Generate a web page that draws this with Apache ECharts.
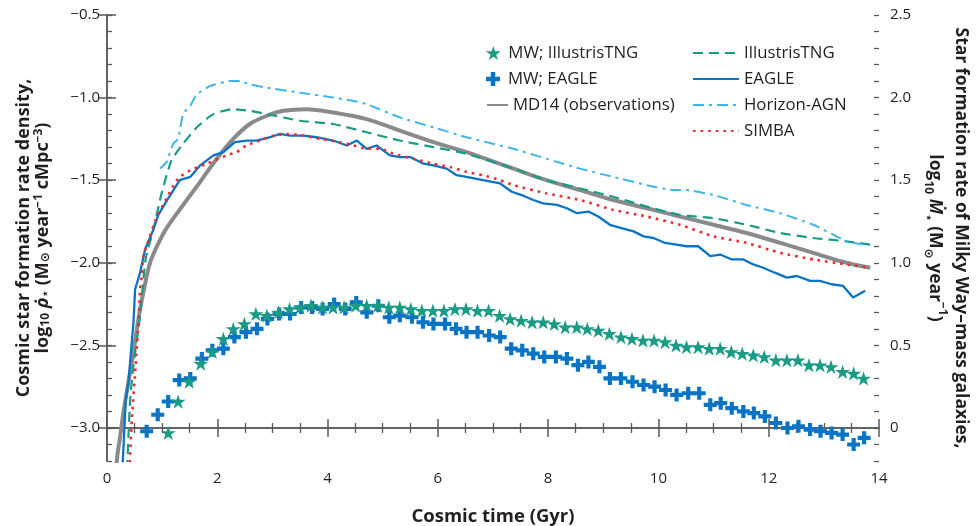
<!DOCTYPE html>
<html>
<head>
<meta charset="utf-8">
<script src="https://cdn.jsdelivr.net/npm/echarts@6/dist/echarts.min.js"></script>
<style>html,body{margin:0;padding:0;background:#fff}#c{width:980px;height:526px}</style>
</head>
<body>
<div id="c"></div>
<script>
// ---- data (time in Gyr, log10 values) ----
const md14 = [[0.15,-3.40],[0.18,-3.19],[0.24,-3.05],[0.30,-2.90],[0.38,-2.74],[0.45,-2.60],[0.52,-2.45],[0.60,-2.28],[0.69,-2.13],[0.78,-2.00],[0.92,-1.89],[1.08,-1.79],[1.38,-1.65],[1.69,-1.51],[1.99,-1.37],[2.29,-1.25],[2.59,-1.16],[2.90,-1.11],[3.20,-1.08],[3.62,-1.07],[4.10,-1.09],[4.71,-1.13],[5.31,-1.20],[5.92,-1.27],[6.52,-1.33],[7.37,-1.43],[7.97,-1.50],[8.58,-1.56],[9.18,-1.62],[9.79,-1.67],[10.39,-1.72],[11.00,-1.77],[11.60,-1.82],[12.21,-1.88],[12.81,-1.94],[13.41,-2.00],[13.84,-2.03]];
const tng = [[0.35,-3.35],[0.37,-3.20],[0.42,-2.83],[0.48,-2.62],[0.60,-2.32],[0.70,-1.98],[0.84,-1.80],[0.99,-1.58],[1.17,-1.38],[1.38,-1.28],[1.63,-1.18],[1.93,-1.10],[2.29,-1.07],[2.59,-1.08],[2.90,-1.10],[3.50,-1.14],[4.10,-1.16],[4.71,-1.21],[5.31,-1.26],[5.92,-1.30],[6.52,-1.34],[7.37,-1.43],[7.97,-1.50],[8.58,-1.55],[9.18,-1.60],[9.79,-1.66],[10.39,-1.71],[11.00,-1.73],[11.60,-1.77],[12.21,-1.82],[12.81,-1.85],[13.41,-1.87],[13.84,-1.89]];
const eagle = [[0.27,-3.30],[0.30,-3.11],[0.34,-2.83],[0.39,-2.72],[0.48,-2.36],[0.51,-2.16],[0.60,-2.06],[0.69,-1.92],[0.84,-1.80],[0.93,-1.71],[1.11,-1.61],[1.32,-1.50],[1.51,-1.48],[1.69,-1.41],[1.93,-1.35],[2.11,-1.33],[2.32,-1.27],[2.53,-1.26],[2.71,-1.26],[2.96,-1.24],[3.14,-1.22],[3.32,-1.23],[3.56,-1.23],[3.80,-1.24],[4.10,-1.26],[4.35,-1.29],[4.53,-1.26],[4.71,-1.31],[4.89,-1.29],[5.13,-1.35],[5.31,-1.36],[5.50,-1.36],[5.74,-1.40],[5.92,-1.41],[6.16,-1.43],[6.34,-1.47],[6.52,-1.48],[6.82,-1.50],[7.13,-1.52],[7.34,-1.57],[7.52,-1.59],[7.73,-1.62],[7.91,-1.64],[8.16,-1.65],[8.34,-1.67],[8.52,-1.70],[8.73,-1.69],[8.91,-1.72],[9.12,-1.77],[9.33,-1.79],[9.55,-1.81],[9.73,-1.84],[9.91,-1.85],[10.12,-1.88],[10.33,-1.89],[10.51,-1.90],[10.72,-1.90],[10.94,-1.96],[11.12,-1.95],[11.33,-1.98],[11.54,-1.98],[11.72,-2.01],[11.90,-2.03],[12.11,-2.06],[12.33,-2.09],[12.51,-2.08],[12.75,-2.11],[12.93,-2.11],[13.14,-2.13],[13.35,-2.14],[13.53,-2.21],[13.75,-2.17]];
const horizon = [[0.96,-1.43],[1.08,-1.39],[1.20,-1.28],[1.29,-1.25],[1.38,-1.10],[1.51,-1.05],[1.63,-0.98],[1.87,-0.93],[2.23,-0.90],[2.41,-0.90],[2.59,-0.92],[2.90,-0.94],[3.50,-0.97],[4.10,-1.00],[4.47,-1.02],[4.71,-1.04],[5.31,-1.12],[5.92,-1.18],[6.52,-1.24],[7.37,-1.31],[7.97,-1.37],[8.58,-1.43],[9.18,-1.48],[9.79,-1.53],[10.27,-1.56],[10.51,-1.56],[11.00,-1.59],[11.60,-1.65],[12.21,-1.70],[12.81,-1.77],[13.41,-1.87],[13.72,-1.89]];
const simba = [[0.40,-3.30],[0.45,-2.95],[0.52,-2.62],[0.57,-2.36],[0.60,-2.16],[0.63,-2.08],[0.66,-1.96],[0.78,-1.84],[0.87,-1.75],[1.08,-1.61],[1.29,-1.49],[1.51,-1.44],[1.81,-1.40],[2.17,-1.35],[2.35,-1.33],[2.53,-1.29],[2.77,-1.26],[3.02,-1.23],[3.26,-1.22],[3.56,-1.23],[3.86,-1.25],[4.23,-1.27],[4.47,-1.29],[4.71,-1.31],[4.95,-1.31],[5.19,-1.34],[5.55,-1.37],[5.92,-1.40],[6.22,-1.42],[6.52,-1.45],[6.82,-1.47],[7.13,-1.50],[7.37,-1.53],[7.97,-1.58],[8.58,-1.62],[9.18,-1.68],[9.79,-1.72],[10.39,-1.77],[11.00,-1.84],[11.60,-1.88],[12.21,-1.94],[12.81,-1.98],[13.41,-2.01],[13.84,-2.03]];
// Milky Way-mass galaxies (right axis)
const mwTng = [[1.11,-0.03],[1.29,0.16],[1.49,0.28],[1.70,0.39],[1.91,0.46],[2.11,0.54],[2.29,0.60],[2.49,0.63],[2.70,0.69],[2.90,0.68],[3.11,0.70],[3.31,0.72],[3.50,0.73],[3.70,0.74],[3.91,0.73],[4.10,0.73],[4.30,0.73],[4.51,0.74],[4.71,0.74],[4.91,0.74],[5.11,0.73],[5.31,0.73],[5.51,0.72],[5.71,0.71],[5.91,0.71],[6.11,0.71],[6.31,0.72],[6.51,0.72],[6.72,0.71],[6.92,0.71],[7.12,0.68],[7.31,0.66],[7.51,0.65],[7.71,0.64],[7.91,0.64],[8.11,0.63],[8.31,0.61],[8.52,0.61],[8.71,0.60],[8.91,0.59],[9.11,0.57],[9.32,0.55],[9.52,0.54],[9.72,0.53],[9.92,0.53],[10.12,0.52],[10.32,0.50],[10.51,0.49],[10.72,0.49],[10.92,0.48],[11.12,0.48],[11.32,0.46],[11.52,0.45],[11.72,0.44],[11.92,0.43],[12.13,0.41],[12.33,0.41],[12.53,0.41],[12.73,0.38],[12.93,0.38],[13.13,0.37],[13.34,0.34],[13.54,0.33],[13.72,0.30]];
const mwEagle = [[0.72,-0.02],[0.92,0.08],[1.11,0.16],[1.31,0.29],[1.51,0.30],[1.72,0.42],[1.91,0.47],[2.11,0.48],[2.31,0.55],[2.52,0.58],[2.72,0.60],[2.91,0.66],[3.12,0.69],[3.32,0.69],[3.52,0.73],[3.72,0.73],[3.91,0.72],[4.12,0.75],[4.32,0.72],[4.52,0.76],[4.71,0.70],[4.92,0.74],[5.12,0.67],[5.31,0.68],[5.53,0.67],[5.73,0.64],[5.92,0.63],[6.13,0.63],[6.33,0.60],[6.52,0.58],[6.72,0.58],[6.93,0.56],[7.13,0.55],[7.33,0.48],[7.53,0.47],[7.73,0.45],[7.93,0.43],[8.14,0.43],[8.34,0.42],[8.54,0.38],[8.73,0.40],[8.93,0.37],[9.12,0.30],[9.32,0.30],[9.53,0.28],[9.73,0.26],[9.93,0.25],[10.13,0.23],[10.33,0.20],[10.54,0.21],[10.74,0.21],[10.94,0.14],[11.13,0.15],[11.33,0.12],[11.54,0.10],[11.73,0.09],[11.93,0.07],[12.13,0.03],[12.34,0.00],[12.54,0.01],[12.75,-0.01],[12.94,-0.02],[13.14,-0.03],[13.34,-0.04],[13.54,-0.10],[13.73,-0.06]];
// tick values
const leftMajor = [-3.0,-2.5,-2.0,-1.5,-1.0,-0.5];
const rightMajor = [0,0.5,1.0,1.5,2.0,2.5];
const leftMinor = [-3.2,-3.1,-3.0,-2.9,-2.8,-2.7,-2.6,-2.5,-2.4,-2.3,-2.2,-2.1,-2.0,-1.9,-1.8,-1.7,-1.6,-1.5,-1.4,-1.3,-1.2,-1.1,-1.0,-0.9,-0.8,-0.7,-0.6,-0.5];
const rightMinor = [-0.2,-0.1,0,0.1,0.2,0.3,0.4,0.5,0.6,0.7,0.8,0.9,1.0,1.1,1.2,1.3,1.4,1.5,1.6,1.7,1.8,1.9,2.0,2.1,2.2,2.3,2.4,2.5];

const FONT = '"Open Sans", "DejaVu Sans", sans-serif';
const AX = '#58595b';
const TXT = '#231f20';
const C_TNG = '#199b85', C_EAGLE = '#0a73c3', C_HZ = '#41b6e6', C_SIMBA = '#ee2a2e', C_MD = '#8a8a8c';
const STAR = 'path://M50,0 L61.2,34.5 L97.6,34.5 L68.2,55.9 L79.4,90.5 L50,69.1 L20.6,90.5 L31.8,55.9 L2.4,34.5 L38.8,34.5 Z';
const CROSS = 'path://M34,0 H66 V34 H100 V66 H66 V100 H34 V66 H0 V34 H34 Z';

function makeRich(size, lh) {
  return {
    t: {fontSize: size, fontWeight: 'bold', fontFamily: FONT, color: TXT, lineHeight: lh},
    ti: {fontSize: size, fontWeight: 'bold', fontStyle: 'italic', fontFamily: FONT, color: TXT, lineHeight: lh},
    s: {fontSize: 12, fontWeight: 'bold', fontFamily: FONT, color: TXT, lineHeight: 12, verticalAlign: 'bottom'},
    p: {fontSize: 12, fontWeight: 'bold', fontFamily: FONT, color: TXT, lineHeight: 13, verticalAlign: 'top'}
  };
}
const leftName = '{t|Cosmic star formation rate density,}\n{t|log}{s|10}{t| }{ti|ρ̇}{s|⋆}{t| (M}{s|⊙}{t| year}{p|−1}{t| cMpc}{p|−3}{t|)}';
const rightName = '{t|Star formation rate of Milky Way–mass galaxies,}\n{t|log}{s|10}{t| }{ti|Ṁ}{s|⋆}{t| (M}{s|⊙}{t| year}{p|−1}{t|)}';

const labelStyle = {fontSize: 15, fontFamily: FONT, color: TXT};
const lineAx = {show: true, lineStyle: {color: AX, width: 1.5}};

function xAx(pos, labels) {
  return {
    type: 'value', min: 0, max: 14, interval: 2, position: pos,
    axisLine: lineAx,
    axisTick: {show: true, inside: true, length: 9, lineStyle: {color: AX, width: 1.5}},
    minorTick: {show: true, splitNumber: 4, length: 5, lineStyle: {color: AX, width: 1.3}},
    axisLabel: Object.assign({show: labels, margin: 10}, labelStyle),
    splitLine: {show: false}, minorSplitLine: {show: false}
  };
}
function yAx(pos, min, max, major, minor, isMinor, fmt) {
  return {
    type: 'value', min: min, max: max, position: pos,
    axisLine: isMinor ? {show: false} : lineAx,
    axisTick: {show: true, inside: true, length: isMinor ? 5 : 9, customValues: isMinor ? minor : major, lineStyle: {color: AX, width: isMinor ? 1.3 : 1.5}},
    axisLabel: Object.assign({show: !isMinor, customValues: major, formatter: fmt, margin: pos === 'left' ? 7 : 11}, labelStyle),
    splitLine: {show: false}
  };
}

const xBottom = xAx('bottom', true);
xBottom.name = 'Cosmic time (Gyr)';
xBottom.nameLocation = 'middle';
xBottom.nameGap = 46;
xBottom.nameMoveOverlap = false;
xBottom.nameTextStyle = {fontSize: 18.5, fontWeight: 'bold', fontFamily: FONT, color: TXT};

const yLeft = yAx('left', -3.2, -0.5, leftMajor, leftMinor, false, v => v.toFixed(1).replace('-', '−'));
yLeft.name = leftName; yLeft.nameLocation = 'middle'; yLeft.nameRotate = 90; yLeft.nameGap = 55; yLeft.nameMoveOverlap = false;
yLeft.nameTextStyle = {rich: makeRich(18, 19), align: 'center'};
const yRight = yAx('right', -0.2, 2.5, rightMajor, rightMinor, false, v => v === 0 ? '0' : v.toFixed(1));
yRight.name = rightName; yRight.nameLocation = 'middle'; yRight.nameRotate = -90; yRight.nameGap = 43; yRight.nameMoveOverlap = false;
yRight.nameTextStyle = {rich: makeRich(17.5, 26), align: 'center'};

const legTxt = {fontSize: 16.8, fontFamily: FONT, color: TXT, lineHeight: 20};
const hideSym = {color: 'rgba(0,0,0,0)', borderColor: 'rgba(0,0,0,0)', borderWidth: 0};
function leg(name, left, top, w, isLine) {
  const l = {data: [name], left: left, top: top, itemWidth: w, itemHeight: 14, padding: 0, selectedMode: false, textStyle: legTxt};
  if (isLine) l.itemStyle = hideSym;
  return l;
}

const option = {
  animation: false,
  backgroundColor: '#fff',
  grid: {left: 107, right: 101, top: 15, bottom: 65, containLabel: false, outerBoundsMode: 'none'},
  legend: [
    leg('MW; IllustrisTNG', 486, 43, 20, false),
    leg('MW; EAGLE', 486, 69, 20, false),
    leg('MD14 (observations)', 486, 95, 21, true),
    leg('IllustrisTNG', 692, 43, 46, true),
    leg('EAGLE', 692, 69, 46, true),
    leg('Horizon-AGN', 692, 95, 46, true),
    leg('SIMBA', 692, 121, 46, true)
  ],
  xAxis: [xBottom, xAx('top', false)],
  yAxis: [
    yLeft, yRight,
    yAx('left', -3.2, -0.5, leftMajor, leftMinor, true, null),
    yAx('right', -0.2, 2.5, rightMajor, rightMinor, true, null)
  ],
  series: [
    {name: 'MD14 (observations)', type: 'line', data: md14, xAxisIndex: 0, yAxisIndex: 0, showSymbol: false, symbol: 'none', smooth: 0.3,
     lineStyle: {color: C_MD, width: 4}, itemStyle: {color: C_MD}, z: 2},
    {name: 'IllustrisTNG', type: 'line', data: tng, yAxisIndex: 0, symbol: 'none', smooth: 0.2,
     lineStyle: {color: C_TNG, width: 2.2, type: [10, 6]}, itemStyle: {color: C_TNG}, z: 3},
    {name: 'EAGLE', type: 'line', data: eagle, yAxisIndex: 0, symbol: 'none',
     lineStyle: {color: C_EAGLE, width: 2.3}, itemStyle: {color: C_EAGLE}, z: 3},
    {name: 'Horizon-AGN', type: 'line', data: horizon, yAxisIndex: 0, symbol: 'none', smooth: 0.15,
     lineStyle: {color: C_HZ, width: 2, type: [11, 5, 3, 5]}, itemStyle: {color: C_HZ}, z: 3},
    {name: 'SIMBA', type: 'line', data: simba, yAxisIndex: 0, symbol: 'none', smooth: 0.2,
     lineStyle: {color: C_SIMBA, width: 2.6, type: [2.6, 5]}, itemStyle: {color: C_SIMBA}, z: 4},
    {name: 'MW; EAGLE', type: 'scatter', data: mwEagle, yAxisIndex: 1, symbol: CROSS, symbolSize: 13, symbolKeepAspect: true,
     itemStyle: {color: C_EAGLE, opacity: 1}, z: 5},
    {name: 'MW; IllustrisTNG', type: 'scatter', data: mwTng, yAxisIndex: 1, symbol: STAR, symbolSize: 15, symbolKeepAspect: true,
     itemStyle: {color: C_TNG, opacity: 1}, z: 6}
  ]
};
const chart = echarts.init(document.getElementById('c'), null, {renderer: 'canvas'});
chart.setOption(option);
</script>
</body>
</html>
